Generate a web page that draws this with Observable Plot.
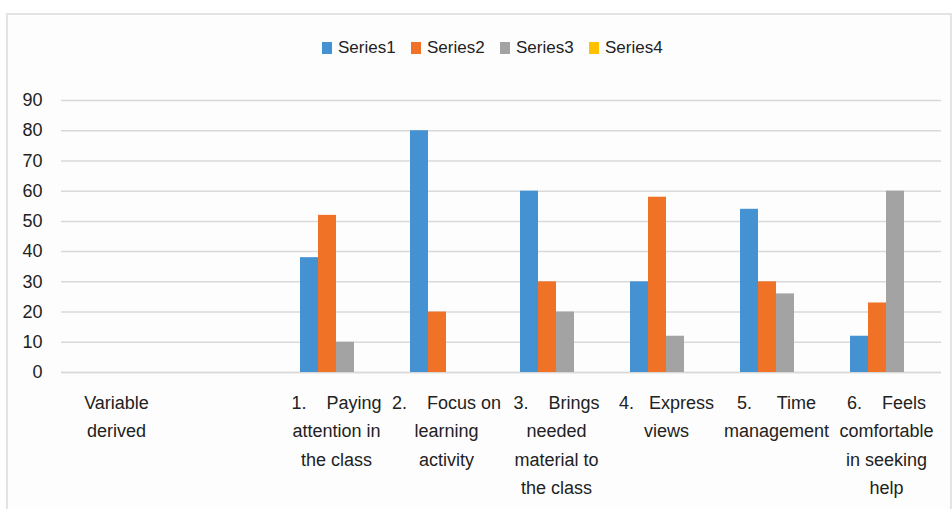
<!DOCTYPE html>
<html>
<head>
<meta charset="utf-8">
<script src="https://cdn.jsdelivr.net/npm/d3@7"></script>
<script src="https://cdn.jsdelivr.net/npm/@observablehq/plot@0.6"></script>
<style>
  body { margin: 0; background: #ffffff; }
  #frame {
    position: relative; width: 952px; height: 509px; overflow: hidden;
    font-family: "Liberation Sans", Arial, sans-serif;
    color: #222;
  }
  #panel {
    position: absolute; left: 6px; top: 13px; width: 946px; height: 520px;
    border: 2px solid #e4e4e4; background: #fdfdfd; box-sizing: border-box;
  }
  #legend {
    position: relative; height: 80px; box-sizing: border-box;
    padding-top: 36px; padding-left: 322px;
    display: flex; align-items: flex-start; font-size: 17px; line-height: 24px;
  }
  .item { display: flex; align-items: center; width: 89px; height: 24px; }
  .swatch { width: 10px; height: 12px; margin-right: 6px; }
  #chart { position: relative; }
  #chart svg text { white-space: pre; }
</style>
</head>
<body>
<div id="frame">
  <div id="panel"></div>
  <div id="legend"></div>
  <div id="chart"></div>
</div>
<script>
// Category labels along the x axis (line breaks as wrapped in the chart)
const categories = [
  "Variable\nderived",
  "",
  "1.    Paying\nattention in\nthe class",
  "2.    Focus on\nlearning\nactivity",
  "3.    Brings\nneeded\nmaterial to\nthe class",
  "4.   Express\nviews",
  "5.     Time\nmanagement",
  "6.    Feels\ncomfortable\nin seeking\nhelp"
];

const seriesNames = ["Series1", "Series2", "Series3", "Series4"];
const seriesColors = ["#4592d3", "#f07226", "#a2a3a2", "#ffc000"];

// Values per category (null = no bar)
const series1 = [null, null, 38, 80, 60, 30, 54, 12];
const series2 = [null, null, 52, 20, 30, 58, 30, 23];
const series3 = [null, null, 10, null, 20, 12, 26, 60];
const series4 = [null, null, null, null, null, null, null, null];

const yTicks = [0, 10, 20, 30, 40, 50, 60, 70, 80, 90];

const seriesValues = [series1, series2, series3, series4];
const rows = [];
categories.forEach((category, i) => {
  seriesNames.forEach((series, s) => {
    const value = seriesValues[s][i];
    if (value != null) rows.push({category, series, value});
  });
});

// Legend
const legend = document.getElementById("legend");
seriesNames.forEach((name, i) => {
  const item = document.createElement("div");
  item.className = "item";
  const sw = document.createElement("span");
  sw.className = "swatch";
  sw.style.background = seriesColors[i];
  const label = document.createElement("span");
  label.textContent = name;
  item.append(sw, label);
  legend.append(item);
});

const chart = Plot.plot({
  width: 952,
  height: 429,
  marginTop: 20,
  marginBottom: 137,
  marginLeft: 58,
  marginRight: 8,
  style: {
    fontFamily: '"Liberation Sans", Arial, sans-serif',
    fontSize: "18px",
    color: "#222",
    background: "transparent",
    overflow: "visible"
  },
  fx: {domain: categories, padding: 0, label: null, axis: null},
  x: {domain: seriesNames, paddingInner: 0, paddingOuter: 1, axis: null},
  y: {domain: [0, 90], label: null, axis: null},
  color: {domain: seriesNames, range: seriesColors},
  marks: [
    Plot.gridY(yTicks, {stroke: "#d9d9d9", strokeOpacity: 1, strokeWidth: 1.5}),
    // category baseline, one per facet so every category cell is laid out
    Plot.ruleY(categories, {fx: d => d, y: 0, stroke: "#d9d9d9", strokeWidth: 1.5}),
    Plot.axisY(yTicks, {tickSize: 0, tickPadding: 19, label: null, fontSize: 18}),
    Plot.axisFx({
      anchor: "bottom",
      tickSize: 0,
      tickPadding: 16,
      label: null,
      fontSize: 18,
      lineHeight: 1.58,
      textOverflow: null
    }),
    Plot.barY(rows, {fx: "category", x: "series", y: "value", fill: "series", inset: 0})
  ]
});

document.getElementById("chart").append(chart);
</script>
</body>
</html>
